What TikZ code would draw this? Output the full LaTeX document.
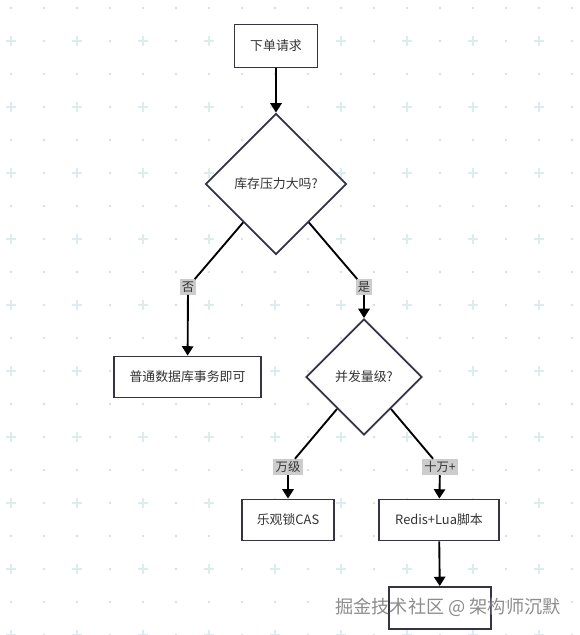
\documentclass[tikz,border=0pt]{standalone}
\usepackage{fontspec}
\setmainfont{Noto Sans CJK SC}
\usepackage{xcolor}
\usepackage{tikz}
\usetikzlibrary{arrows.meta,positioning,shapes.geometric}
\definecolor{boxline}{HTML}{33334A}
\definecolor{gridplus}{HTML}{DCEDED}
\definecolor{griddot}{HTML}{D8E0E0}

\begin{document}
\begin{tikzpicture}[
x=0.03cm, y=-0.03cm,
font=\fontsize{11pt}{13pt}\selectfont,
box/.style={draw=boxline, line width=1.6pt, fill=white, text=black!80, align=center, minimum height=1.23cm, inner sep=2pt},
decision/.style={draw=boxline, line width=1.6pt, fill=white, text=black!80, diamond, aspect=1, inner sep=0pt},
lbl/.style={fill=black!20, text=black!80, inner sep=2pt, font=\fontsize{10.5pt}{12pt}\selectfont},
arr/.style={-{Triangle[length=2.8mm, width=3.4mm]}, line width=1.6pt},
lin/.style={line width=1.6pt}
]
\useasboundingbox (0,0) rectangle (579,635);
\foreach \i in {0,...,17}
  \foreach \j in {0,...,19} {
    \pgfmathtruncatemacro\px{11+33*\i}
    \pgfmathtruncatemacro\py{8+33*\j}
    \ifodd\j
      \ifodd\i
        \fill[griddot] (\px,\py) circle (1.3);
      \else
        \draw[gridplus, line width=1.2pt] (\px-5,\py) -- (\px+5,\py) (\px,\py-5) -- (\px,\py+5);
      \fi
    \else
      \fill[griddot] (\px,\py) circle (1.3);
    \fi
  }
\node[box, minimum width=2.49cm, minimum height=1.29cm] (order) at (276,46) {下单请求};
\node[decision, minimum width=4.23cm, minimum height=4.23cm] (stock) at (276,184) {库存压力大吗?};
\node[box, minimum width=4.41cm] (dbtx) at (187.5,377) {普通数据库事务即可};
\node[decision, minimum width=3.48cm, minimum height=3.48cm] (qps) at (364,377) {并发量级?};
\node[box, minimum width=2.76cm] (cas) at (288,520) {乐观锁CAS};
\node[box, minimum width=3.6cm] (lua) at (439,520) {Redis+Lua脚本};
\node[box, minimum width=3.06cm, minimum height=1.26cm] (last) at (440,608) {};
\node[lbl] (no) at (188,287) {否};
\node[lbl] (yes) at (364,287) {是};
\node[lbl] (wan) at (288,467) {万级};
\node[lbl] (shiwan) at (440,467) {十万+};
\draw[arr] (order) -- (stock);
\draw[lin] (stock) -- (no);
\draw[arr] (no) -- (dbtx);
\draw[lin] (stock) -- (yes);
\draw[arr] (yes) -- (qps);
\draw[lin] (qps) -- (wan);
\draw[arr] (wan) -- (cas);
\draw[lin] (qps) -- (shiwan);
\draw[arr] (shiwan) -- (lua);
\draw[arr] (lua) -- (last);
\node[text=black!50, opacity=0.9, font=\fontsize{15.5pt}{17pt}\selectfont] (mark) at (448,607) {掘金技术社区 @ 架构师沉默};
\end{tikzpicture}
\end{document}
